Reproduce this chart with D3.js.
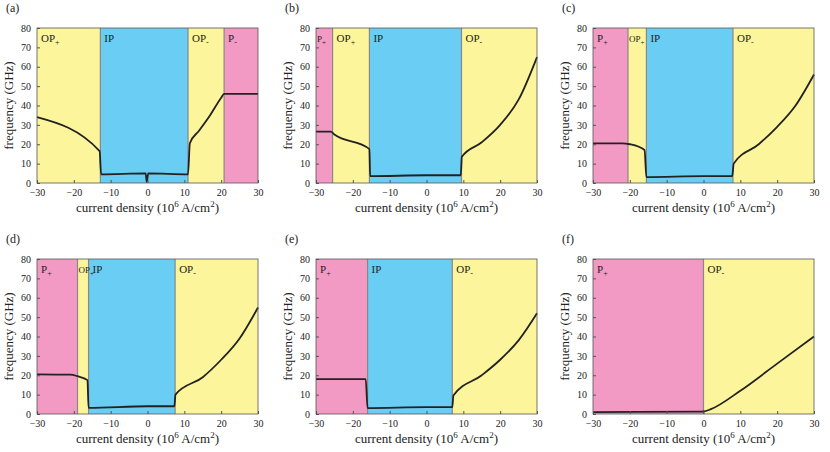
<!DOCTYPE html>
<html><head><meta charset="utf-8">
<script src="https://cdn.jsdelivr.net/npm/d3@7"></script>
<style>body{margin:0;background:#fff}text{font-family:"Liberation Serif","DejaVu Serif","Times New Roman",serif !important;fill:#222}</style>
</head><body><svg id="c" width="830" height="452"></svg>
<script>
// panel letters
var panelNames = ['(a)', '(b)', '(c)', '(d)', '(e)', '(f)'];
// phase regions per panel: [label, sub, from, to, kind]
var regionsA = [['OP', '+', -30, -12.8, 'op'], ['IP', '', -12.8, 11, 'ip'], ['OP', '-', 11, 20.8, 'op'], ['P', '-', 20.8, 30, 'p']];
var regionsB = [['P', '+', -30, -25.5, 'p'], ['OP', '+', -25.5, -15.5, 'op'], ['IP', '', -15.5, 9.5, 'ip'], ['OP', '-', 9.5, 30, 'op']];
var regionsC = [['P', '+', -30, -20.5, 'p'], ['OP', '+', -20.5, -15.5, 'op'], ['IP', '', -15.5, 8, 'ip'], ['OP', '-', 8, 30, 'op']];
var regionsD = [['P', '+', -30, -19, 'p'], ['OP', '+', -19, -16, 'op'], ['IP', '', -16, 7.5, 'ip'], ['OP', '-', 7.5, 30, 'op']];
var regionsE = [['P', '+', -30, -16, 'p'], ['IP', '', -16, 7, 'ip'], ['OP', '-', 7, 30, 'op']];
var regionsF = [['P', '+', -30, 0, 'p'], ['OP', '-', 0, 30, 'op']];
// frequency curves [current density, GHz]
var curveA = [[-30,34],[-13,16.5],[-12.6,4.5],[-0.5,5],[-0.2,0.5],[0.2,5],[11,4.5],[11.5,20.5],[14,27],[17,35],[20,44],[20.8,46],[30,46]];
var curveB = [[-30,26.5],[-26,26.5],[-25,25],[-15.5,17.5],[-15.3,3.5],[0,4],[9.3,4],[9.6,13.5],[15,21],[20,30],[25,43],[30,65]];
var curveC = [[-30,20.5],[-22,20.5],[-20,20],[-16,17],[-15.5,3],[0,3.5],[7.8,3.5],[8.2,10],[15,20],[20,29],[25,40],[30,56]];
var curveD = [[-30,20.5],[-21,20.3],[-19,19.5],[-16.3,17.5],[-16,3.2],[0,4],[7.3,4],[7.6,10],[15,19],[20,28],[25,39],[30,55]];
var curveE = [[-30,18],[-16.5,18],[-16,3],[0,3.5],[7,3.5],[7.3,9.5],[15,20],[20,28],[25,38],[30,52]];
var curveF = [[-30,1],[-1,1.2],[0,1.3],[2,2.5],[10,12],[20,26],[30,40]];
var xTicks = [-30, -20, -10, 0, 10, 20, 30];
var yTicks = [0, 10, 20, 30, 40, 50, 60, 70, 80];

var regions = [regionsA, regionsB, regionsC, regionsD, regionsE, regionsF];
var curves = [curveA, curveB, curveC, curveD, curveE, curveF];
var fills = {op: '#fdf59b', ip: '#69cdf4', p: '#f29ac3'};
var colX = [37, 316, 593], plotW = 221;
var rowY = [28, 259], plotH = 155;

var svg = d3.select('#c');
panelNames.forEach(function (name, i) {
	var x0 = colX[i % 3], y0 = rowY[Math.floor(i / 3)];
	var x = d3.scaleLinear().domain([-30, 30]).range([x0, x0 + plotW]);
	var y = d3.scaleLinear().domain([0, 80]).range([y0 + plotH, y0]);
	var g = svg.append('g');

	regions[i].forEach(function (r) {
		g.append('rect').attr('x', x(r[2])).attr('y', y(80)).attr('width', x(r[3]) - x(r[2])).attr('height', y(0) - y(80)).attr('fill', fills[r[4]]);
	});
	// borders between regions
	regions[i].slice(1).forEach(function (r) {
		g.append('line').attr('x1', x(r[2])).attr('x2', x(r[2])).attr('y1', y(0)).attr('y2', y(80)).attr('stroke', '#888').attr('stroke-width', 1.2);
	});
	regions[i].forEach(function (r) {
		var narrow = x(r[3]) - x(r[2]) < 20;
		var t = g.append('text').attr('x', x(r[2]) + (narrow ? 1 : 4)).attr('y', y0 + 14).attr('font-size', narrow ? 9 : 11).text(r[0]);
		if (r[1]) t.append('tspan').attr('font-size', narrow ? 7 : 8).attr('dy', 3).text(r[1]);
	});

	g.append('path').datum(curves[i])
		.attr('d', d3.line().curve(d3.curveMonotoneX).x(function (d) { return x(d[0]); }).y(function (d) { return y(d[1]); }))
		.attr('fill', 'none').attr('stroke', '#222').attr('stroke-width', 1.8);

	g.append('rect').attr('x', x0).attr('y', y0).attr('width', plotW).attr('height', plotH).attr('fill', 'none').attr('stroke', '#555').attr('stroke-width', 0.8);

	var ax = g.append('g').attr('transform', 'translate(0,' + (y0 + plotH) + ')')
		.call(d3.axisBottom(x).tickValues(xTicks).tickSize(3).tickSizeOuter(0));
	var ay = g.append('g').attr('transform', 'translate(' + x0 + ',0)')
		.call(d3.axisLeft(y).tickValues(yTicks).tickSize(3).tickSizeOuter(0));
	[ax, ay].forEach(function (a) {
		a.attr('font-family', null);
		a.select('.domain').remove();
		a.selectAll('text').attr('font-size', 10).attr('fill', '#333');
		a.selectAll('line').attr('stroke', '#555');
	});
	ax.selectAll('line').attr('y2', -3);
	ay.selectAll('line').attr('x2', 3);

	var xl = g.append('text').attr('x', x0 + plotW / 2).attr('y', y0 + plotH + 29).attr('text-anchor', 'middle').attr('font-size', 13)
		.text('current density (10');
	xl.append('tspan').attr('font-size', 9).attr('dy', -5).text('6');
	xl.append('tspan').attr('dy', 5).text(' A/cm');
	xl.append('tspan').attr('font-size', 9).attr('dy', -5).text('2');
	xl.append('tspan').attr('dy', 5).text(')');

	g.append('text').attr('transform', 'translate(' + (x0 - 24) + ',' + (y0 + plotH / 2) + ') rotate(-90)')
		.attr('text-anchor', 'middle').attr('font-size', 13).text('frequency (GHz)');
	g.append('text').attr('x', x0 - 31).attr('y', y0 - 16).attr('font-size', 12).text(name);
});
</script></body></html>
